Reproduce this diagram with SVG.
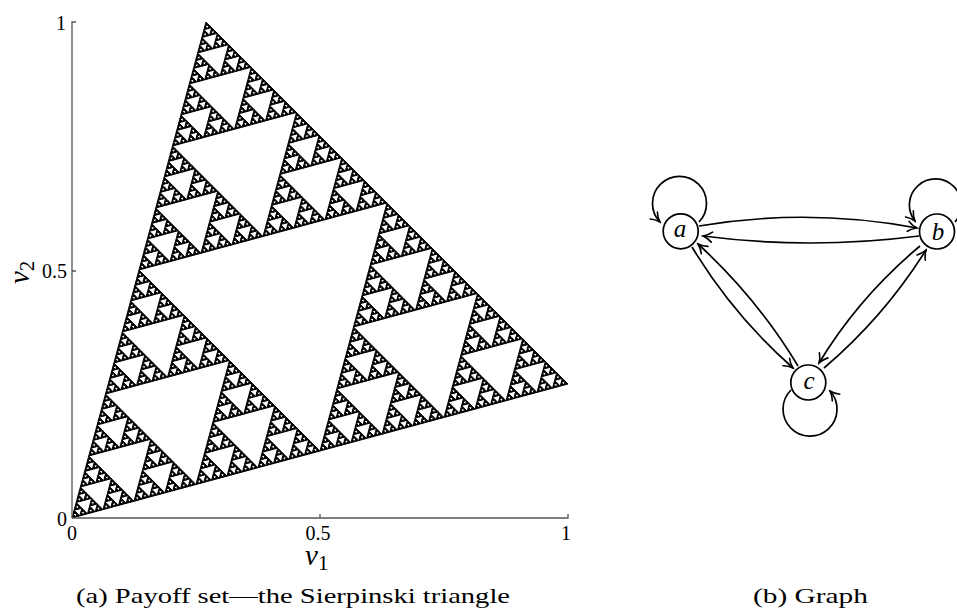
<svg xmlns="http://www.w3.org/2000/svg" xmlns:xlink="http://www.w3.org/1999/xlink" width="957" height="610" viewBox="0 0 957 610">
<style>
.axis{stroke:#555;stroke-width:1.3;fill:none}
.tick{font-family:"Liberation Serif",serif;font-size:20px;fill:#000}
.cap{font-family:"Liberation Serif",serif;font-size:22px;fill:#000}
.var{font-family:"Liberation Serif",serif;font-style:italic;font-size:29px;fill:#000}
.sub{font-style:normal;font-size:21px}
.node circle{fill:#fff;stroke:#000;stroke-width:1.7}
.node text{font-family:"Liberation Serif",serif;font-style:italic;font-size:25px;text-anchor:middle;fill:#000}
.edge{fill:none;stroke:#000;stroke-width:1.7;marker-end:url(#ar)}
</style>
<defs>
<marker id="ar" viewBox="-12 -7 14 14" refX="0" refY="0" markerWidth="14" markerHeight="14" markerUnits="userSpaceOnUse" orient="auto">
<path d="M-9,-5 C-6,-2.2 -2,-0.6 0,0 C-2,0.6 -6,2.2 -9,5" fill="none" stroke="#000" stroke-width="1.6" stroke-linecap="round"/>
</marker>
<polygon id="s0" points="0,0 1,0 0,1" stroke="#000" stroke-width="1" vector-effect="non-scaling-stroke" stroke-linejoin="round"/>
<g id="s1"><use xlink:href="#s0" transform="scale(.5)"/><use xlink:href="#s0" transform="translate(.5,0) scale(.5)"/><use xlink:href="#s0" transform="translate(0,.5) scale(.5)"/></g>
<g id="s2"><use xlink:href="#s1" transform="scale(.5)"/><use xlink:href="#s1" transform="translate(.5,0) scale(.5)"/><use xlink:href="#s1" transform="translate(0,.5) scale(.5)"/></g>
<g id="s3"><use xlink:href="#s2" transform="scale(.5)"/><use xlink:href="#s2" transform="translate(.5,0) scale(.5)"/><use xlink:href="#s2" transform="translate(0,.5) scale(.5)"/></g>
<g id="s4"><use xlink:href="#s3" transform="scale(.5)"/><use xlink:href="#s3" transform="translate(.5,0) scale(.5)"/><use xlink:href="#s3" transform="translate(0,.5) scale(.5)"/></g>
<g id="s5"><use xlink:href="#s4" transform="scale(.5)"/><use xlink:href="#s4" transform="translate(.5,0) scale(.5)"/><use xlink:href="#s4" transform="translate(0,.5) scale(.5)"/></g>
<g id="s6"><use xlink:href="#s5" transform="scale(.5)"/><use xlink:href="#s5" transform="translate(.5,0) scale(.5)"/><use xlink:href="#s5" transform="translate(0,.5) scale(.5)"/></g>
<g id="s7"><use xlink:href="#s6" transform="scale(.5)"/><use xlink:href="#s6" transform="translate(.5,0) scale(.5)"/><use xlink:href="#s6" transform="translate(0,.5) scale(.5)"/></g>
</defs>
<rect width="957" height="610" fill="#fff"/>

<g id="plot">
<use xlink:href="#s7" fill="#000" transform="matrix(496,-134,134,-496,72,518)"/>
<path class="axis" d="M72,518 V22 H76 M72,271 H76 M72,518 H568 V514 M320,518 V514"/>
<text class="tick" x="66" y="30" text-anchor="end">1</text>
<text class="tick" x="67" y="278" text-anchor="end">0.5</text>
<text class="tick" x="67" y="526" text-anchor="end">0</text>
<text class="tick" x="72" y="540" text-anchor="middle">0</text>
<text class="tick" x="318" y="540" text-anchor="middle">0.5</text>
<text class="tick" x="566" y="540" text-anchor="middle">1</text>
<text class="var" x="305" y="565">v<tspan class="sub" dy="5">1</tspan></text>
<text class="var" transform="translate(29,284) rotate(-90)">v<tspan class="sub" dy="5">2</tspan></text>
<text class="cap" x="76" y="603" textLength="434" lengthAdjust="spacingAndGlyphs">(a) Payoff set—the Sierpinski triangle</text>
</g>

<g id="edges">
<path class="edge" d="M699,222 A27,27 0 1 0 660,222"/>
<path class="edge" d="M955,222 A26,26 0 1 0 915,221"/>
<path class="edge" d="M791,390 A27,27 0 1 0 830,391"/>
<path class="edge" d="M699,226 Q808,207.6 917,228"/>
<path class="edge" d="M919,236 Q810,250 703,236"/>
<path class="edge" d="M692,247 Q733,315 793,368"/>
<path class="edge" d="M798,366 Q757,298 698,244"/>
<path class="edge" d="M920,246 Q859,297 819,363"/>
<path class="edge" d="M824,368 Q884,317 926,250"/>
</g>

<g id="node-a" class="node"><circle cx="680.7" cy="231.3" r="17.5"/><text x="680" y="237">a</text></g>
<g id="node-b" class="node"><circle cx="937" cy="231.5" r="17.5"/><text x="938" y="240">b</text></g>
<g id="node-c" class="node"><circle cx="808.3" cy="382.5" r="17.5"/><text x="809" y="389">c</text></g>

<text class="cap" x="753" y="603" textLength="115" lengthAdjust="spacingAndGlyphs">(b) Graph</text>
</svg>
